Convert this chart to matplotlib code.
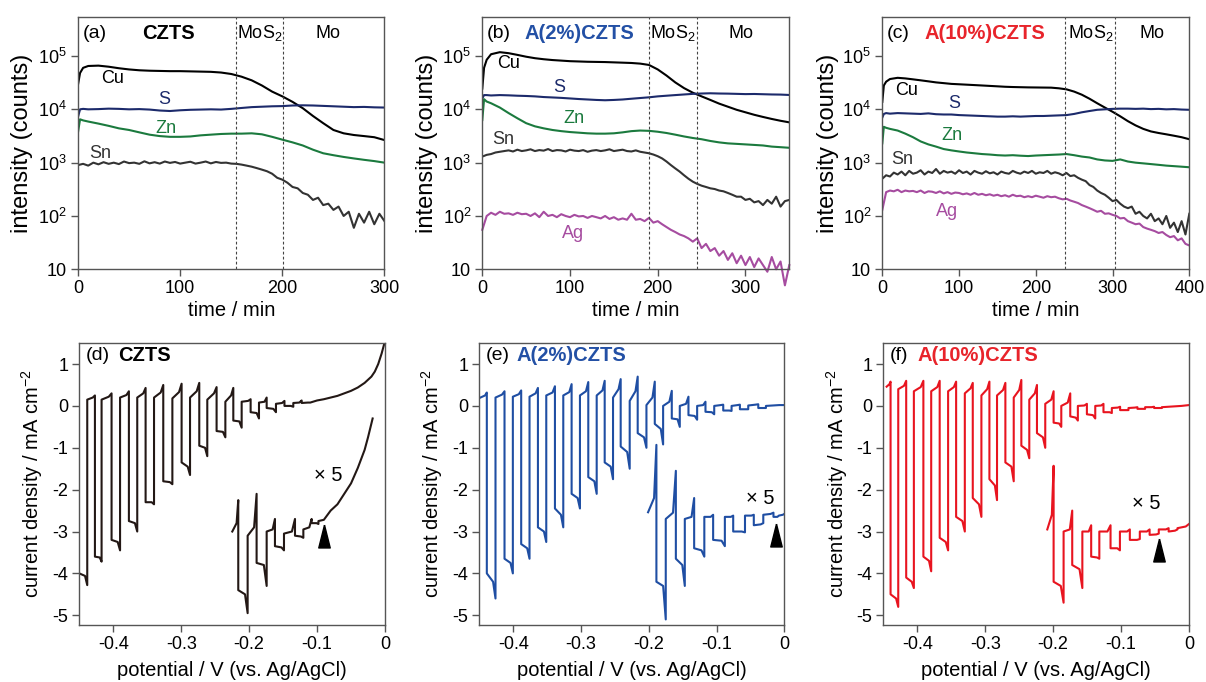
import numpy as np
import matplotlib
matplotlib.use("Agg")
import matplotlib.pyplot as plt
from matplotlib.ticker import FixedLocator, FixedFormatter, NullLocator

plt.rcParams['font.family'] = ['Liberation Sans', 'DejaVu Sans']
plt.rcParams['mathtext.fontset'] = 'custom'
plt.rcParams['mathtext.rm'] = 'Liberation Sans'
plt.rcParams['mathtext.it'] = 'Liberation Sans:italic'
plt.rcParams['mathtext.bf'] = 'Liberation Sans:bold'
plt.rcParams['axes.unicode_minus'] = False

# ---------------- depth profiles (GD-OES) ----------------
# sample names and title colours
samples = ['CZTS', 'A(2%)CZTS', 'A(10%)CZTS']
sample_colors = ['#000000', '#2350a5', '#e8242b']

# (a) CZTS
t_a = [0, 2, 5, 10, 20, 30, 40, 50, 60, 70, 80, 90, 100, 110, 120, 130, 140, 150,
       160, 170, 180, 190, 200, 210, 220, 230, 240, 250, 260, 270, 280, 290, 300]
cu_a = [29000, 48000, 60000, 65000, 66000, 63000, 59000, 56000, 54000, 53000, 52500,
        52000, 52000, 51500, 51000, 50500, 49000, 46000, 41000, 35000, 28000, 21500,
        17500, 13800, 10500, 7500, 5500, 4100, 3550, 3300, 3150, 3000, 2650]
s_a = [7200, 10000, 10200, 10000, 10100, 10300, 10200, 10000, 10100, 9900, 9500, 9300,
       9600, 9800, 9900, 10000, 9900, 10200, 10600, 11000, 11200, 11400, 11500, 11800,
       11900, 11800, 11600, 11400, 11200, 11000, 11100, 10900, 10800]
zn_a = [3700, 6500, 6200, 5900, 5400, 4900, 4400, 4100, 3700, 3350, 3150, 3050, 3050,
        3100, 3250, 3350, 3450, 3500, 3500, 3550, 3400, 3050, 2700, 2400, 2100, 1750,
        1500, 1380, 1280, 1200, 1130, 1070, 1000]
t_a_fine = list(range(0, 305, 5))
sn_a = [900, 950, 880, 1000, 930, 1020, 950, 1000, 940, 1050, 980, 1000, 950, 1060, 970,
        1020, 960, 1050, 990, 1030, 960, 1000, 1040, 960, 1000, 1050, 970, 1030, 990,
        1000, 960, 950, 920, 880, 840, 790, 740, 690, 620, 520, 480, 420, 350, 330, 270,
        250, 200, 220, 160, 170, 130, 150, 100, 120, 60, 110, 75, 120, 70, 110, 80]

# (b) A(2%)CZTS
t_b = [0, 2, 5, 10, 20, 30, 40, 50, 60, 70, 80, 90, 100, 110, 120, 130, 140, 150, 160,
       170, 180, 190, 200, 210, 220, 230, 240, 250, 260, 270, 280, 290, 300, 310, 320,
       330, 340, 350]
cu_b = [24500, 60000, 85000, 108000, 118000, 113000, 105000, 97000, 91000, 87000, 84000,
        82000, 80000, 79000, 78000, 77500, 77000, 76000, 75000, 74000, 72000, 68000,
        56000, 43000, 32000, 25000, 20500, 17500, 15000, 12800, 11200, 9800, 8800, 7900,
        7200, 6600, 6100, 5700]
s_b = [16000, 18500, 18500, 18200, 18500, 18300, 18000, 17800, 17500, 17000, 16700,
       16400, 16000, 15600, 15300, 15000, 14800, 15000, 15300, 15800, 16300, 16800,
       17500, 18000, 18500, 19000, 19500, 19800, 20000, 19800, 19700, 19500, 19300,
       19400, 19200, 19000, 18900, 18600]
zn_b = [6300, 15500, 14000, 13000, 10800, 8500, 6800, 5500, 4800, 4400, 4100, 3900,
        3750, 3650, 3550, 3500, 3500, 3550, 3700, 3900, 4000, 3950, 3800, 3600, 3350,
        3100, 2900, 2750, 2550, 2400, 2300, 2250, 2200, 2150, 2100, 2000, 1950, 1900]
t_b_fine = list(range(0, 355, 5))
sn_b = [1300, 1400, 1450, 1550, 1600, 1650, 1700, 1620, 1750, 1650, 1700, 1780, 1650,
        1720, 1680, 1800, 1650, 1720, 1700, 1620, 1750, 1680, 1650, 1720, 1600, 1680,
        1720, 1650, 1700, 1780, 1650, 1700, 1750, 1650, 1620, 1700, 1600, 1550, 1500,
        1420, 1320, 1200, 1050, 900, 780, 680, 580, 500, 440, 400, 370, 350, 330, 320,
        300, 290, 270, 250, 230, 230, 200, 210, 180, 190, 160, 200, 170, 230, 150, 190,
        200]
ag_b = [55, 100, 115, 105, 120, 110, 112, 105, 115, 108, 110, 100, 112, 95, 120, 100,
        105, 95, 108, 100, 95, 105, 98, 100, 92, 100, 95, 90, 100, 88, 95, 85, 90, 85,
        110, 85, 88, 80, 92, 75, 80, 70, 62, 55, 50, 45, 42, 38, 33, 38, 25, 30, 22, 25,
        18, 22, 15, 20, 13, 18, 12, 17, 11, 16, 12, 9, 17, 10, 14, 5, 12]

# (c) A(10%)CZTS
t_c = [0, 2, 5, 10, 20, 30, 40, 50, 60, 70, 80, 90, 100, 110, 120, 130, 140, 150, 160,
       170, 180, 190, 200, 210, 220, 230, 240, 250, 260, 270, 280, 290, 300, 310, 320,
       330, 340, 350, 360, 370, 380, 390, 400]
cu_c = [13800, 28000, 33000, 37000, 39000, 38000, 36500, 35000, 33500, 32000, 31000,
        30000, 29500, 29000, 28500, 28000, 27500, 27000, 26500, 26200, 26000, 25800,
        25700, 25600, 25500, 24800, 23700, 21500, 18800, 15800, 13000, 10800, 9000, 7400,
        6000, 5000, 4300, 3850, 3600, 3400, 3200, 3000, 2750]
s_c = [7000, 8200, 8500, 8300, 8500, 8400, 8300, 8200, 8400, 8100, 8000, 8000, 7800,
       7700, 7600, 7500, 7400, 7300, 7300, 7400, 7300, 7400, 7500, 7500, 7600, 7700, 7800,
       8200, 8800, 9300, 9800, 10000, 10200, 10300, 10300, 10200, 10300, 10100, 10200,
       10000, 10100, 9900, 9800]
zn_c = [2300, 4700, 4500, 4300, 4000, 3500, 3000, 2500, 2200, 2000, 1800, 1700, 1620,
        1550, 1500, 1450, 1420, 1380, 1360, 1380, 1350, 1330, 1360, 1380, 1400, 1420,
        1450, 1380, 1300, 1250, 1150, 1100, 1080, 1150, 1050, 1000, 970, 940, 910, 880,
        860, 840, 820]
t_c_fine = list(range(0, 405, 5))
sn_c = [500, 580, 550, 650, 600, 680, 580, 700, 620, 650, 720, 600, 680, 640, 760, 620,
        700, 650, 680, 620, 720, 640, 680, 600, 700, 650, 620, 690, 630, 660, 600, 680,
        640, 620, 700, 650, 620, 680, 640, 700, 620, 660, 640, 700, 620, 660, 630, 580,
        640, 560, 580, 520, 480, 450, 380, 350, 300, 270, 250, 220, 190, 200, 170, 150,
        140, 150, 110, 120, 100, 90, 110, 80, 90, 70, 100, 60, 75, 50, 80, 45, 110]
ag_c = [130, 280, 300, 290, 310, 280, 300, 290, 295, 280, 300, 270, 290, 285, 270, 290,
        265, 280, 260, 275, 270, 255, 265, 250, 270, 250, 260, 245, 255, 240, 250, 235,
        245, 230, 250, 235, 240, 225, 235, 225, 240, 230, 220, 235, 225, 230, 215, 205,
        210, 195, 185, 175, 160, 150, 140, 130, 120, 125, 110, 112, 105, 100, 90, 92, 80,
        75, 70, 72, 62, 58, 55, 52, 48, 50, 44, 40, 42, 35, 38, 30, 28]

# layer boundaries (min): CZTS/MoS2, MoS2/Mo
boundaries = [(155, 201), (190, 245), (238, 303)]
layer_label_x = [(177.6, 244.5), (217, 294.7), (271.7, 351)]
t_max = [300, 350, 400]
t_ticks = [[0, 100, 200, 300], [0, 100, 200, 300], [0, 100, 200, 300, 400]]

# element label positions (time, counts)
lab_pos = [
    {'Cu': (34, 38000), 'S': (84.5, 15000), 'Zn': (86, 4400), 'Sn': (22, 1500)},
    {'Cu': (29.6, 73000), 'S': (88, 26000), 'Zn': (104.6, 6800), 'Sn': (24, 2700),
     'Ag': (104, 47)},
    {'Cu': (31, 23000), 'S': (93.5, 12600), 'Zn': (91, 3300), 'Sn': (25.6, 1150),
     'Ag': (84, 120)},
]

el_colors = {'Cu': '#000000', 'S': '#1c2a6b', 'Zn': '#1b7a3e', 'Sn': '#333333',
             'Ag': '#a64ca0'}

profiles = [
    [('Cu', t_a, cu_a), ('S', t_a, s_a), ('Zn', t_a, zn_a), ('Sn', t_a_fine, sn_a)],
    [('Cu', t_b, cu_b), ('S', t_b, s_b), ('Zn', t_b, zn_b), ('Sn', t_b_fine, sn_b),
     ('Ag', t_b_fine, ag_b)],
    [('Cu', t_c, cu_c), ('S', t_c, s_c), ('Zn', t_c, zn_c), ('Sn', t_c_fine, sn_c),
     ('Ag', t_c_fine, ag_c)],
]

# ---------------- chopped-light LSV ----------------
# toggle potentials (V) and per-segment levels (start, late, end spike) in mA cm-2
d_edges = [-0.450, -0.4383, -0.427, -0.4172, -0.4025, -0.390, -0.377, -0.3647, -0.3524,
           -0.340, -0.3264, -0.313, -0.2994, -0.287, -0.2734, -0.2616, -0.2479, -0.235,
           -0.2233, -0.211, -0.1978, -0.1855, -0.1742, -0.1605, -0.148, -0.135, -0.1227,
           -0.110]
d_levels = [(-4.0, -4.06, -4.28), (0.15, 0.2, 0.25), (-3.6, -3.62, -3.72), (0.15, 0.22, 0.3),
            (-3.2, -3.25, -3.45), (0.2, 0.26, 0.35), (-2.75, -2.8, -3.0), (0.2, 0.3, 0.43),
            (-2.3, -2.3, -2.35), (0.2, 0.32, 0.5), (-1.8, -1.82, -1.87), (0.18, 0.33, 0.53),
            (-1.35, -1.45, -1.65), (0.2, 0.35, 0.55), (-0.95, -1.0, -1.2), (0.15, 0.3, 0.45),
            (-0.6, -0.62, -0.75), (0.1, 0.25, 0.43), (-0.35, -0.37, -0.52), (0.1, 0.12, 0.16),
            (-0.15, -0.17, -0.3), (0.08, 0.1, 0.2), (-0.05, -0.07, -0.15), (0.05, 0.07, 0.12),
            (0.0, 0.0, -0.02), (0.07, 0.08, 0.13), (0.07, 0.08, 0.08)]
d_tail_v = [-0.10, -0.09, -0.08, -0.07, -0.06, -0.05, -0.04, -0.03, -0.02, -0.015, -0.01,
            -0.005, 0.0]
d_tail_j = [0.13, 0.16, 0.2, 0.24, 0.3, 0.36, 0.44, 0.55, 0.7, 0.82, 1.0, 1.25, 1.55]

d5_edges = [-0.2248, -0.216, -0.2022, -0.189, -0.1742, -0.162, -0.1487, -0.1325, -0.1202,
            -0.108, -0.098]
d5_levels = [(-3.0, -2.8, -2.25), (-4.4, -4.5, -4.95), (-3.1, -2.9, -2.1), (-3.75, -3.8, -4.3),
             (-3.0, -2.95, -2.7), (-3.35, -3.38, -3.45), (-3.05, -3.0, -2.7),
             (-3.1, -3.12, -3.15), (-2.95, -2.9, -2.7), (-2.8, -2.8, -2.82)]
d5_tail_v = [-0.098, -0.09, -0.08, -0.07, -0.06, -0.05, -0.04, -0.03, -0.025, -0.0182]
d5_tail_j = [-2.75, -2.72, -2.5, -2.35, -2.1, -1.85, -1.48, -1.05, -0.75, -0.3]

e_edges = [-0.4483, -0.4389, -0.4261, -0.4128, -0.4005, -0.3882, -0.3759, -0.3635, -0.3512,
           -0.3384, -0.3261, -0.3138, -0.3015, -0.2892, -0.2768, -0.2650, -0.2527, -0.2414,
           -0.2281, -0.2163, -0.2034, -0.1911, -0.1788, -0.1660, -0.1542, -0.1414, -0.1286,
           -0.1163, -0.1034, -0.0901, -0.0778, -0.0655, -0.0532, -0.0384, -0.0271, 0.0]
e_levels = [(0.2, 0.25, 0.32), (-4.0, -4.2, -4.6), (0.2, 0.27, 0.35), (-3.65, -3.75, -4.0),
            (0.22, 0.28, 0.37), (-3.3, -3.4, -3.65), (0.22, 0.3, 0.43), (-2.9, -3.0, -3.25),
            (0.25, 0.32, 0.47), (-2.45, -2.6, -2.9), (0.25, 0.33, 0.52), (-2.1, -2.2, -2.45),
            (0.25, 0.35, 0.57), (-1.7, -1.8, -2.1), (0.25, 0.37, 0.6), (-1.35, -1.45, -1.75),
            (0.2, 0.4, 0.64), (-0.97, -1.1, -1.5), (0.12, 0.35, 0.7), (-0.65, -0.75, -1.0),
            (0.02, 0.2, 0.58), (-0.43, -0.55, -0.92), (0.0, 0.1, 0.36), (-0.3, -0.32, -0.5),
            (0.0, 0.05, 0.22), (-0.22, -0.24, -0.33), (0.0, 0.02, 0.1), (-0.14, -0.15, -0.2),
            (0.0, 0.02, 0.03), (-0.11, -0.11, -0.12), (0.0, 0.02, 0.03), (-0.08, -0.08, -0.08),
            (0.01, 0.03, 0.04), (-0.05, -0.05, -0.05), (0.0, 0.02, 0.02)]

e5_edges = [-0.201, -0.1887, -0.1749, -0.160, -0.1468, -0.133, -0.118, -0.105, -0.0877,
            -0.0754, -0.058, -0.045, -0.031, -0.016, -0.008, 0.0]
e5_levels = [(-2.54, -2.2, -0.93), (-4.2, -4.3, -5.1), (-2.7, -2.55, -1.55),
             (-3.65, -3.8, -4.3), (-2.7, -2.65, -2.2), (-3.4, -3.45, -3.6),
             (-2.65, -2.65, -2.6), (-3.2, -3.22, -3.35), (-2.65, -2.65, -2.62),
             (-3.0, -3.0, -3.02), (-2.62, -2.62, -2.6), (-2.85, -2.83, -2.8),
             (-2.6, -2.58, -2.55), (-2.65, -2.65, -2.62), (-2.62, -2.6, -2.58)]

f_edges = [-0.4451, -0.4393, -0.428, -0.4163, -0.405, -0.391, -0.3795, -0.367, -0.3546,
           -0.3428, -0.33, -0.3183, -0.3056, -0.2938, -0.2826, -0.2703, -0.258, -0.2468,
           -0.2351, -0.2238, -0.2116, -0.1993, -0.188, -0.1748, -0.1636, -0.1503, -0.138,
           -0.1259, -0.1136, -0.1014, -0.0891, -0.0759, -0.0646, -0.0514, -0.040, 0.0]
f_levels = [(0.46, 0.52, 0.58), (-4.5, -4.6, -4.8), (0.4, 0.48, 0.6), (-4.1, -4.2, -4.35),
            (0.35, 0.45, 0.6), (-3.6, -3.7, -3.95), (0.35, 0.45, 0.6), (-3.15, -3.25, -3.45),
            (0.35, 0.45, 0.58), (-2.65, -2.75, -3.0), (0.3, 0.42, 0.55), (-2.2, -2.35, -2.65),
            (0.25, 0.4, 0.58), (-1.75, -1.9, -2.25), (0.25, 0.38, 0.55), (-1.35, -1.45, -1.8),
            (0.2, 0.38, 0.62), (-0.95, -1.05, -1.25), (0.15, 0.3, 0.5), (-0.65, -0.75, -1.0),
            (0.05, 0.15, 0.35), (-0.4, -0.42, -0.5), (0.0, 0.08, 0.3), (-0.25, -0.28, -0.35),
            (0.0, 0.01, 0.05), (-0.2, -0.22, -0.3), (0.0, 0.01, 0.05), (-0.15, -0.15, -0.17),
            (-0.05, -0.04, -0.02), (-0.1, -0.1, -0.1), (-0.05, -0.04, -0.03),
            (-0.07, -0.07, -0.07), (-0.03, -0.03, -0.02), (-0.05, -0.05, -0.05),
            (-0.03, 0.0, 0.02)]

f5_edges = [-0.2086, -0.1993, -0.1846, -0.1719, -0.157, -0.144, -0.132, -0.1155, -0.1017,
            -0.0871, -0.0724, -0.058, -0.0445, -0.03, -0.017, 0.0]
f5_levels = [(-2.95, -2.6, -1.43), (-4.2, -4.3, -4.7), (-3.0, -2.95, -2.5),
             (-3.8, -3.9, -4.35), (-3.0, -3.0, -2.85), (-3.6, -3.62, -3.65),
             (-3.0, -3.0, -2.85), (-3.4, -3.4, -3.45), (-3.0, -3.0, -2.95),
             (-3.2, -3.2, -3.18), (-3.0, -3.0, -2.95), (-3.08, -3.07, -3.05),
             (-2.95, -2.95, -2.92), (-3.0, -2.98, -2.95), (-2.92, -2.88, -2.82)]

lsv_colors = ['#231815', '#1f4ea3', '#e8141f']
# "x 5" label and arrowhead positions (V, mA cm-2)
x5_pos = [(-0.083, -1.66), (-0.036, -2.22), (-0.0623, -2.32)]
arrow_pos = [(-0.0893, -3.1), (-0.0128, -3.09), (-0.0441, -3.45)]


def chop_trace(edges, levels, tail_v=(), tail_j=()):
    xs, ys = [], []
    for a, b, (y0, y1, y2) in zip(edges[:-1], edges[1:], levels):
        xs += [a, a + 0.72 * (b - a), b]
        ys += [y0, y1, y2]
    xs += list(tail_v)
    ys += list(tail_j)
    return xs, ys


lsv_main = [chop_trace(d_edges, d_levels, d_tail_v, d_tail_j),
            chop_trace(e_edges, e_levels),
            chop_trace(f_edges, f_levels)]
lsv_x5 = [chop_trace(d5_edges, d5_levels, d5_tail_v, d5_tail_j),
          chop_trace(e5_edges, e5_levels),
          chop_trace(f5_edges, f5_levels)]

W, H = 1206, 682
fig = plt.figure(figsize=(W / 100, H / 100), dpi=100)

top_rects = [(78, 16.7, 306.5, 252.6), (482.3, 16.7, 307, 252.6), (882.3, 16.7, 307, 252.6)]
bot_rects = [(79.3, 342.7, 305.7, 282.6), (479.3, 342.7, 305, 282.6),
             (883.3, 342.7, 305.7, 282.6)]


def px_axes(r):
    x, y, w, h = r
    return fig.add_axes([x / W, 1 - (y + h) / H, w / W, h / H])


def style(ax):
    for sp in ax.spines.values():
        sp.set_color('#555555')
        sp.set_linewidth(1.0)
    ax.tick_params(direction='out', length=5, width=1.0, color='#555555',
                   labelsize=13, pad=3, top=False, right=False)


tags_top = ['(a)', '(b)', '(c)']
tags_bot = ['(d)', '(e)', '(f)']
title_x_top = [0.209, 0.136, 0.136]
title_x_bot = [0.128, 0.123, 0.111]
ylab_x_top = [-0.147, -0.143, -0.14]

for i in range(3):
    ax = px_axes(top_rects[i])
    style(ax)
    ax.set_yscale('log')
    for name, tt, vals in profiles[i]:
        clip = not (i == 1 and name == 'Ag')
        ax.plot(tt, vals, color=el_colors[name], lw=1.5, clip_on=clip)
        lx, ly = lab_pos[i][name]
        ax.text(lx, ly, name, color=el_colors[name], fontsize=13, ha='center', va='center')
    for b in boundaries[i]:
        ax.axvline(b, color='#444444', lw=0.8, ls=(0, (2.5, 2)))
    trans = ax.get_xaxis_transform()
    ax.text(layer_label_x[i][0], 0.935, r'$\mathregular{MoS_2}$', transform=trans,
            ha='center', va='center', fontsize=13)
    ax.text(layer_label_x[i][1], 0.935, 'Mo', transform=trans, ha='center',
            va='center', fontsize=13)
    ax.text(0.015, 0.934, tags_top[i], transform=ax.transAxes, fontsize=14, va='center')
    ax.text(title_x_top[i], 0.934, samples[i], transform=ax.transAxes, fontsize=14.5,
            fontweight='bold', color=sample_colors[i], va='center')
    ax.set_xlim(0, t_max[i])
    ax.set_ylim(10, 5.46e5)
    ax.set_xticks(t_ticks[i])
    ax.yaxis.set_major_locator(FixedLocator([10, 1e2, 1e3, 1e4, 1e5]))
    ax.yaxis.set_major_formatter(FixedFormatter(['10', r'$\mathregular{10^2}$',
                                                 r'$\mathregular{10^3}$',
                                                 r'$\mathregular{10^4}$',
                                                 r'$\mathregular{10^5}$']))
    ax.yaxis.set_minor_locator(NullLocator())
    ax.set_xlabel('time / min', fontsize=14.5)
    ax.xaxis.set_label_coords(0.5, -0.125)
    ax.set_ylabel('intensity (counts)', fontsize=17)
    ax.yaxis.set_label_coords(ylab_x_top[i], 0.5)

ylab_x_bot = [-0.112, -0.112, -0.108]
for i in range(3):
    ax = px_axes(bot_rects[i])
    style(ax)
    col = lsv_colors[i]
    ax.plot(*lsv_main[i], color=col, lw=1.5)
    ax.plot(*lsv_x5[i], color=col, lw=1.5)
    ax.text(*x5_pos[i], '× 5', fontsize=14.5, ha='center', va='center')
    ax.plot(*arrow_pos[i], marker=[(0, 1), (-0.5, -1), (0.5, -1), (0, 1)],
            markersize=16.5, color='black', lw=0)
    ax.text(0.022, 0.956, tags_bot[i], transform=ax.transAxes, fontsize=14, va='center')
    ax.text(title_x_bot[i], 0.956, samples[i], transform=ax.transAxes, fontsize=14.5,
            fontweight='bold', color=sample_colors[i], va='center')
    ax.set_xlim(-0.45, 0)
    ax.set_ylim(-5.24, 1.51)
    ax.set_xticks([-0.4, -0.3, -0.2, -0.1, 0])
    ax.set_xticklabels(['-0.4', '-0.3', '-0.2', '-0.1', '0'])
    ax.set_yticks([1, 0, -1, -2, -3, -4, -5])
    ax.set_yticklabels(['1', '0', '-1', '-2', '-3', '-4', '-5'])
    ax.set_xlabel('potential / V (vs. Ag/AgCl)', fontsize=14.5)
    ax.xaxis.set_label_coords(0.5, -0.125)
    ax.set_ylabel(r'current density / mA cm$\mathregular{^{-2}}$', fontsize=14.5)
    ax.yaxis.set_label_coords(ylab_x_bot[i], 0.5)

fig.savefig('out.png', dpi=100)
